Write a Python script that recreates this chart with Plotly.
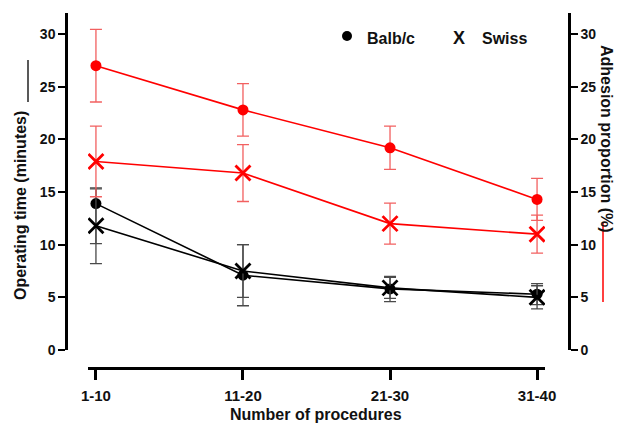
import plotly.graph_objects as go

categories = ["1-10", "11-20", "21-30", "31-40"]

# Operating time (minutes), left axis, black
time_balbc = [13.9, 7.1, 5.8, 5.3]
time_balbc_err_plus = [1.4, 2.9, 1.2, 1.0]
time_balbc_err_minus = [3.8, 2.9, 1.2, 1.0]
time_swiss = [11.8, 7.5, 5.9, 5.0]
time_swiss_err = [3.6, 2.5, 1.0, 1.1]

# Adhesion proportion (%), right axis, red
adh_balbc = [27.0, 22.8, 19.2, 14.3]
adh_balbc_err = [3.45, 2.5, 2.05, 2.0]
adh_swiss = [17.9, 16.8, 12.0, 11.0]
adh_swiss_err = [3.35, 2.7, 1.95, 1.8]

yticks = [0, 5, 10, 15, 20, 25, 30]

FONT = "Liberation Sans, Arial, sans-serif"
RED = "#ff0000"
RED_ERR = "#f26060"
BLK = "#000000"
BLK_ERR = "#4a4a4a"

W, H = 618, 425
# target screen positions of plot area
SL, SR, ST, SB = 66, 569, 13, 368
L, T = SL, ST
R = W - SR
B = H - SB
PW, PH = W - L - R, H - T - B


def px(x):
    return (x - SL) / PW


def py(y):
    return (SB - y) / PH


fig = go.Figure()

fig.add_trace(go.Scatter(
    x=categories, y=time_balbc, mode="lines+markers", yaxis="y",
    line=dict(color=BLK, width=1.6),
    marker=dict(symbol="circle", size=11, color=BLK),
    error_y=dict(type="data", symmetric=False, array=time_balbc_err_plus,
                 arrayminus=time_balbc_err_minus, color=BLK_ERR, thickness=1.3, width=6),
    showlegend=False))
fig.add_trace(go.Scatter(
    x=categories, y=time_swiss, mode="lines+markers", yaxis="y",
    line=dict(color=BLK, width=1.6),
    marker=dict(symbol="x-thin-open", size=15, color=BLK, line=dict(color=BLK, width=2.8)),
    error_y=dict(type="data", array=time_swiss_err, color=BLK_ERR, thickness=1.3, width=6),
    showlegend=False))
fig.add_trace(go.Scatter(
    x=categories, y=adh_balbc, mode="lines+markers", yaxis="y2",
    line=dict(color=RED, width=1.6),
    marker=dict(symbol="circle", size=11, color=RED),
    error_y=dict(type="data", array=adh_balbc_err, color=RED_ERR, thickness=1.3, width=6),
    showlegend=False))
fig.add_trace(go.Scatter(
    x=categories, y=adh_swiss, mode="lines+markers", yaxis="y2",
    line=dict(color=RED, width=1.6),
    marker=dict(symbol="x-thin-open", size=15, color=RED, line=dict(color=RED, width=2.8)),
    error_y=dict(type="data", array=adh_swiss_err, color=RED_ERR, thickness=1.3, width=6),
    showlegend=False))

ydom0 = py(350)
yax = dict(range=[0, 32], domain=[ydom0, 1], tickvals=yticks, showline=True,
           linecolor=BLK, linewidth=2.5, ticks="outside", ticklen=7, tickwidth=2,
           tickcolor=BLK, showgrid=False, zeroline=False,
           tickfont=dict(family=FONT, size=14, color="#111", weight="bold"))

fig.update_layout(
    width=W, height=H, margin=dict(l=L, r=R, t=T, b=B),
    paper_bgcolor="white", plot_bgcolor="white",
    font=dict(family=FONT, color="#111"),
    xaxis=dict(type="category", domain=[px(88), px(545)], range=[-0.054, 3.054],
               anchor="free", position=0, showline=True, linecolor=BLK, linewidth=2.5,
               ticks="outside", ticklen=10, tickwidth=2.5, tickcolor=BLK,
               showgrid=False, zeroline=False, ticklabelstandoff=3,
               tickfont=dict(family=FONT, size=15, color="#111", weight="bold")),
    yaxis=dict(anchor="free", position=0, side="left", **yax),
    yaxis2=dict(anchor="free", position=1, side="right", overlaying="y", **yax),
)

title_font = dict(family=FONT, size=16, color="#111")
annotations = [
    dict(text="<b>Number of procedures</b>", x=px(316), y=py(414), xref="paper", yref="paper",
         showarrow=False, xanchor="center", yanchor="middle", font=title_font),
    dict(text="<b>Operating time (minutes)</b>", x=px(21), y=py(206), xref="paper", yref="paper",
         showarrow=False, textangle=-90, xanchor="center", yanchor="middle", font=title_font),
    dict(text="<b>Adhesion proportion (%)</b>", x=px(607), y=py(139), xref="paper", yref="paper",
         showarrow=False, textangle=90, xanchor="center", yanchor="middle", font=title_font),
    dict(text="<b>Balb/c</b>", x=px(365), y=py(38), xref="paper", yref="paper",
         showarrow=False, xanchor="left", yanchor="middle", font=title_font),
    dict(text="<b>X</b>", x=px(459), y=py(38), xref="paper", yref="paper",
         showarrow=False, xanchor="center", yanchor="middle", font=dict(family=FONT, size=18, color="#111")),
    dict(text="<b>Swiss</b>", x=px(480), y=py(38), xref="paper", yref="paper",
         showarrow=False, xanchor="left", yanchor="middle", font=title_font),
]
fig.update_layout(annotations=annotations)

shapes = [
    dict(type="line", xref="paper", yref="paper", x0=px(28), x1=px(28), y0=py(60), y1=py(102),
         line=dict(color="#222", width=1.5)),
    dict(type="line", xref="paper", yref="paper", x0=px(603), x1=px(603), y0=py(223), y1=py(302),
         line=dict(color=RED, width=1.5)),
    dict(type="circle", xref="paper", yref="paper", xsizemode="pixel", ysizemode="pixel",
         xanchor=px(347), yanchor=py(36), x0=-5, x1=5, y0=-5, y1=5,
         fillcolor=BLK, line=dict(color=BLK, width=0)),
]
fig.update_layout(shapes=shapes)

fig.write_html(
    "out.html",
    config={"displayModeBar": False},
    post_script="document.body.style.margin='0';document.body.style.padding='0';"
                "document.body.style.overflow='hidden';",
)
